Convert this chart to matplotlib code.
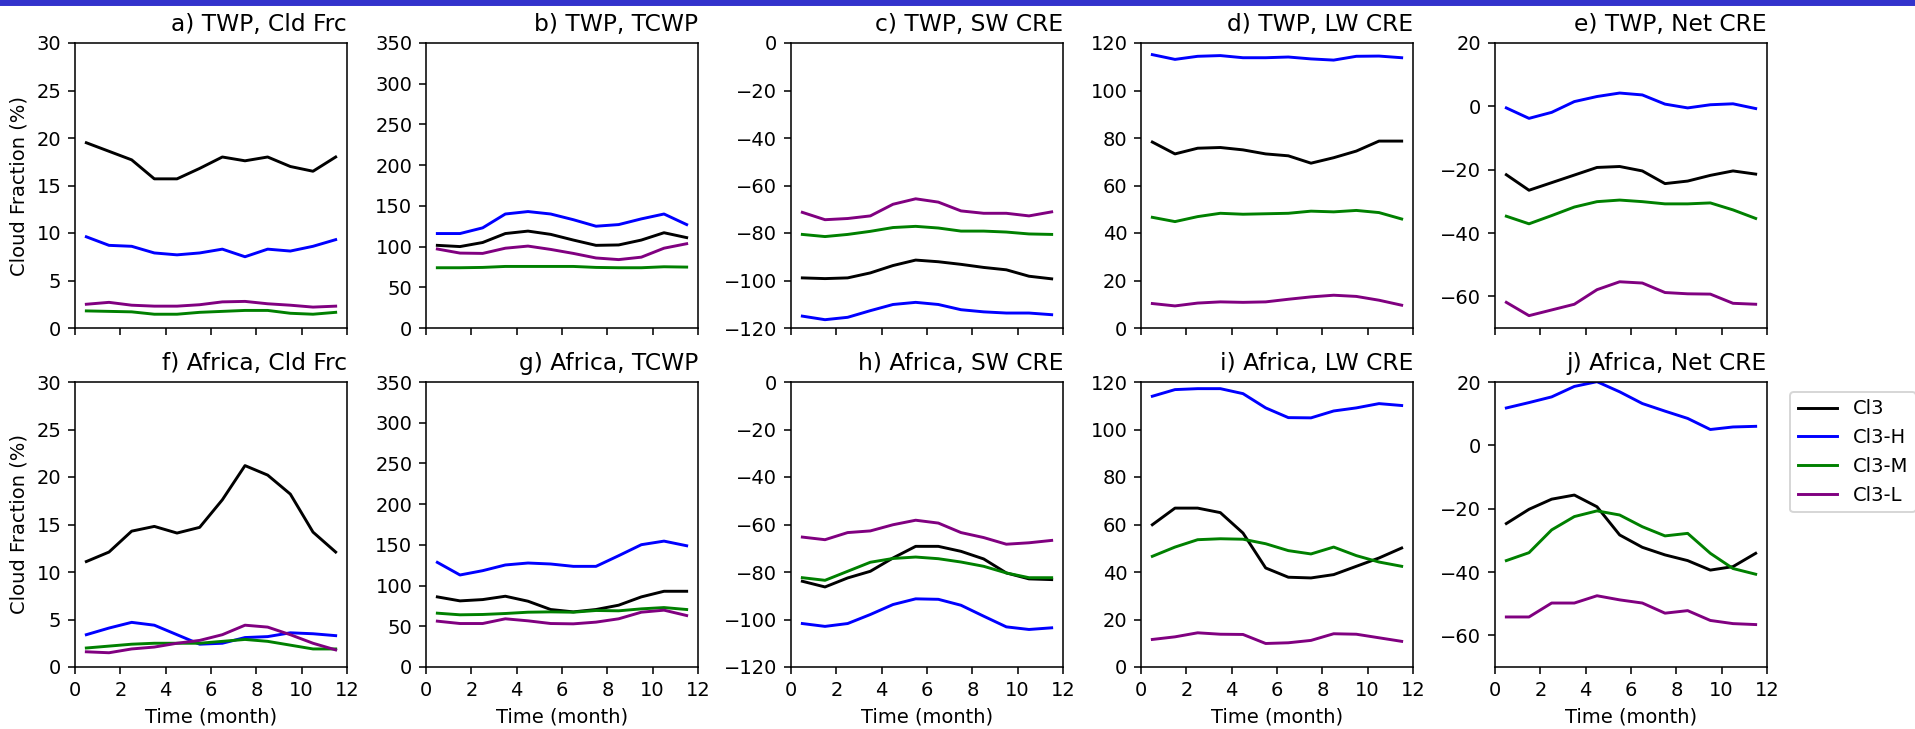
import numpy as np
import matplotlib
matplotlib.use("Agg")
import matplotlib.pyplot as plt
from matplotlib.patches import Rectangle

months = np.arange(12) + 0.5
names = ["Cl3", "Cl3-H", "Cl3-M", "Cl3-L"]
colors = ["black", "blue", "green", "purple"]

# TWP
twp_cf = [
    [19.5, 18.6, 17.7, 15.7, 15.7, 16.8, 18.0, 17.6, 18.0, 17.0, 16.5, 18.0],
    [9.6, 8.7, 8.6, 7.9, 7.7, 7.9, 8.3, 7.5, 8.3, 8.1, 8.6, 9.3],
    [1.8, 1.75, 1.7, 1.45, 1.45, 1.65, 1.75, 1.85, 1.85, 1.55, 1.45, 1.65],
    [2.5, 2.7, 2.4, 2.3, 2.3, 2.45, 2.75, 2.8, 2.55, 2.4, 2.2, 2.3],
]
twp_tcwp = [
    [101.5, 100, 105, 116, 119, 115, 108, 101.5, 102, 108, 117, 111],
    [116, 116, 123, 140, 143, 140, 133, 125, 127, 134, 140, 127],
    [74, 74, 74.4, 75.6, 75.6, 75.6, 75.6, 74.4, 74, 74, 75.2, 74.8],
    [97, 92, 91.6, 98, 100.6, 96.5, 91.6, 86, 84, 87, 98, 103.5],
]
twp_sw = [
    [-98.9, -99.2, -98.9, -96.8, -93.7, -91.4, -92.1, -93.2, -94.5, -95.5, -98.2, -99.3],
    [-115.0, -116.5, -115.5, -112.7, -110.1, -109.2, -110.1, -112.3, -113.2, -113.7, -113.7, -114.4],
    [-80.6, -81.5, -80.6, -79.3, -77.7, -77.2, -77.9, -79.2, -79.2, -79.6, -80.4, -80.6],
    [-71.3, -74.4, -73.9, -72.8, -67.9, -65.6, -67.0, -70.7, -71.7, -71.7, -72.8, -71.1],
]
twp_lw = [
    [78.3, 73.3, 75.7, 76.0, 75.0, 73.3, 72.5, 69.4, 71.7, 74.5, 78.7, 78.7],
    [115.1, 113.1, 114.4, 114.7, 113.8, 113.8, 114.1, 113.3, 112.8, 114.4, 114.5, 113.8],
    [46.6, 44.8, 46.9, 48.3, 47.9, 48.1, 48.3, 49.2, 48.9, 49.5, 48.6, 45.9],
    [10.3, 9.3, 10.5, 11.0, 10.8, 11.0, 12.1, 13.1, 13.8, 13.3, 11.7, 9.6],
]
twp_net = [
    [-21.6, -26.5, -24.1, -21.7, -19.3, -19.0, -20.4, -24.4, -23.6, -21.8, -20.4, -21.4],
    [-0.5, -3.8, -1.9, 1.5, 3.1, 4.2, 3.6, 0.7, -0.5, 0.5, 0.8, -0.7],
    [-34.7, -37.1, -34.5, -31.8, -30.1, -29.6, -30.1, -30.8, -30.8, -30.5, -32.7, -35.4],
    [-61.9, -66.1, -64.3, -62.5, -57.9, -55.4, -55.8, -58.8, -59.2, -59.3, -62.2, -62.5],
]

# Africa
afr_cf = [
    [11.1, 12.1, 14.3, 14.8, 14.1, 14.7, 17.6, 21.2, 20.2, 18.2, 14.2, 12.1],
    [3.4, 4.1, 4.7, 4.4, 3.4, 2.4, 2.5, 3.1, 3.2, 3.6, 3.5, 3.3],
    [2.0, 2.2, 2.4, 2.5, 2.5, 2.5, 2.7, 2.9, 2.7, 2.3, 1.9, 1.9],
    [1.6, 1.5, 1.9, 2.1, 2.5, 2.8, 3.4, 4.4, 4.2, 3.4, 2.5, 1.8],
]
afr_tcwp = [
    [86.1, 81.2, 82.8, 86.9, 80.8, 70.6, 67.7, 70.6, 75.9, 86.1, 93, 93],
    [128.5, 113, 118.3, 125.3, 127.7, 126.5, 123.6, 123.6, 136.7, 150.2, 154.6, 148.9],
    [66.1, 64.1, 64.5, 65.7, 67.3, 67.7, 67.3, 69.4, 69, 71.4, 73, 70.6],
    [56.3, 53.4, 53.4, 59.2, 56.7, 53.4, 53, 55.1, 59.2, 67.3, 69.8, 63.2],
]
afr_sw = [
    [-83.9, -86.3, -82.5, -79.7, -74.1, -69.2, -69.2, -71.3, -74.5, -80.4, -82.9, -83.2],
    [-101.7, -102.9, -101.7, -97.9, -93.7, -91.3, -91.5, -94.0, -98.6, -103.1, -104.2, -103.5],
    [-82.4, -83.5, -79.7, -75.9, -74.3, -73.7, -74.4, -75.8, -77.6, -80.4, -82.4, -82.4],
    [-65.3, -66.4, -63.4, -62.7, -60.1, -58.2, -59.4, -63.4, -65.5, -68.3, -67.7, -66.7],
]
afr_lw = [
    [59.9, 66.9, 66.9, 65.0, 56.4, 41.7, 37.8, 37.5, 38.9, 42.4, 45.9, 50.1],
    [114.0, 116.8, 117.2, 117.2, 115.1, 109.1, 105.0, 104.9, 107.8, 109.1, 110.9, 110.1],
    [46.6, 50.5, 53.6, 54.0, 53.8, 51.9, 49.0, 47.6, 50.5, 46.9, 44.2, 42.4],
    [11.6, 12.7, 14.4, 13.8, 13.7, 9.9, 10.2, 11.2, 14.0, 13.8, 12.3, 10.8],
]
afr_net = [
    [-24.7, -20.2, -17.0, -15.7, -19.4, -28.3, -32.2, -34.6, -36.4, -39.4, -38.3, -34.1],
    [11.8, 13.5, 15.3, 18.6, 20.1, 16.9, 13.2, 10.8, 8.5, 5.0, 5.8, 6.0],
    [-36.4, -33.9, -26.7, -22.5, -20.7, -22.0, -25.7, -28.6, -27.8, -34.1, -38.9, -40.7],
    [-54.2, -54.2, -49.8, -49.8, -47.5, -48.8, -49.8, -53.0, -52.2, -55.3, -56.3, -56.6],
]

titles = [["a) TWP, Cld Frc", "b) TWP, TCWP", "c) TWP, SW CRE", "d) TWP, LW CRE", "e) TWP, Net CRE"],
          ["f) Africa, Cld Frc", "g) Africa, TCWP", "h) Africa, SW CRE", "i) Africa, LW CRE", "j) Africa, Net CRE"]]
data = [[twp_cf, twp_tcwp, twp_sw, twp_lw, twp_net],
        [afr_cf, afr_tcwp, afr_sw, afr_lw, afr_net]]
ylims = [(0, 30), (0, 350), (-120, 0), (0, 120), (-70, 20)]

W, H, DPI = 1915, 729, 140
fig = plt.figure(figsize=(W / DPI, H / DPI), dpi=DPI)
fig.patches.append(Rectangle((0, 1 - 5 / H), 1, 5 / H, transform=fig.transFigure,
                             color="#3333cc", zorder=10))

lefts = [75, 426, 791, 1141, 1495]   # px
tops = [43, 382]
aw, ah = 272, 285

for r in range(2):
    for c in range(5):
        ax = fig.add_axes([lefts[c] / W, 1 - (tops[r] + ah) / H, aw / W, ah / H])
        for vals, name, col in zip(data[r][c], names, colors):
            ax.plot(months, vals, color=col, label=name)
        ax.set_xlim(0, 12); ax.set_ylim(*ylims[c])
        ax.set_xticks(range(0, 13, 2))
        ax.set_title(titles[r][c], loc="right", fontsize=12)
        if r == 0:
            ax.set_xticklabels([])
        else:
            ax.set_xlabel("Time (month)")
        if c == 0:
            ax.set_ylabel("Cloud Fraction (%)")
        if r == 1 and c == 4:
            ax.legend(bbox_to_anchor=(1.05, 1), loc="upper left")

fig.savefig("out.png", dpi=DPI)
